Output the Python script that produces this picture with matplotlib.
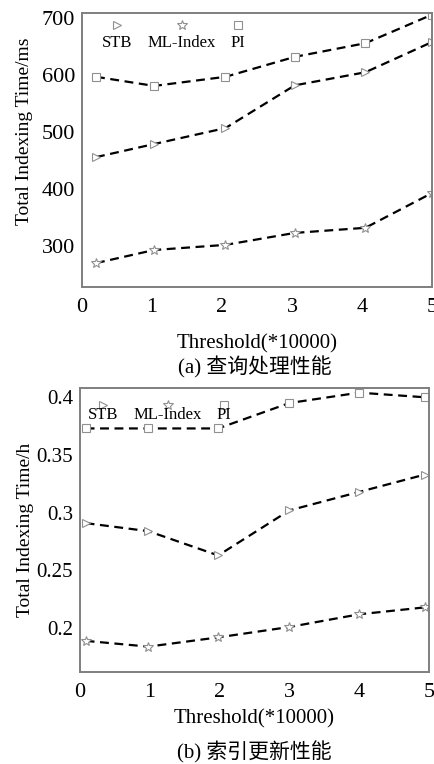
import matplotlib
matplotlib.use("Agg")
import matplotlib.pyplot as plt
from matplotlib.offsetbox import VPacker

plt.rcParams['font.family'] = ['Liberation Serif', 'Noto Sans CJK SC']
plt.rcParams['font.size'] = 15

series = ["STB", "ML-Index", "PI"]

# (a) query processing
x_query = [0.2, 1.03, 2.05, 3.04, 4.05, 5.0]
stb_query = [456, 479, 507, 582, 605, 658]
ml_query = [270, 293, 302, 323, 332, 393]
pi_query = [597, 581, 597, 632, 656, 706]

# (b) index update
x_update = [0.08, 0.98, 1.98, 3.0, 4.0, 4.94]
stb_update = [0.291, 0.284, 0.263, 0.302, 0.318, 0.333]
ml_update = [0.189, 0.184, 0.192, 0.201, 0.212, 0.218]
pi_update = [0.373, 0.373, 0.373, 0.395, 0.404, 0.400]

markers = ['>', '*', 's']
msizes = [5.5, 7.5, 5.5]


def vertical_legend(ax, anchor, sep):
    leg = ax.legend(loc='upper left', bbox_to_anchor=anchor, ncol=3,
                    frameon=False, handlelength=0.6, columnspacing=0.9,
                    fontsize=12, borderaxespad=0, borderpad=0)
    for h in leg.legend_handles:
        h.set_linestyle('none')
    hbox = leg._legend_handle_box
    for col in hbox.get_children():
        items = []
        for item in col.get_children():
            h, t = item.get_children()
            items.append(VPacker(pad=0, sep=sep, children=[h, t], align="center"))
        col._children = items
    return leg


def draw(ax, x, ys, ylim, yticks, yticklabels, ylabel, ylab_pos, xlabpad,
         leg_anchor, leg_sep, ytick_size):
    for y, name, m, ms in zip(ys, series, markers, msizes):
        ax.plot(x, y, color='black', linestyle=(0, (4, 2.5)), linewidth=1.6,
                marker=m, markersize=ms, markerfacecolor='white',
                markeredgecolor='#909090', markeredgewidth=0.8, label=name)
    ax.set_xlim(0, 5)
    ax.set_ylim(*ylim)
    ax.set_xticks(range(6))
    ax.set_yticks(yticks)
    ax.set_yticklabels(yticklabels)
    ax.tick_params(axis='x', length=0, pad=8, labelsize=16)
    ax.tick_params(axis='y', length=0, pad=5, labelsize=ytick_size)
    for s in ax.spines.values():
        s.set_color('#7f7f7f')
        s.set_linewidth(1.4)
    ax.set_ylabel(ylabel, fontsize=14)
    ax.yaxis.set_label_coords(*ylab_pos)
    ax.set_xlabel('Threshold(*10000)', labelpad=xlabpad)
    vertical_legend(ax, leg_anchor, leg_sep)


fig = plt.figure(figsize=(4.35, 7.64), dpi=100)
ax1 = fig.add_axes([0.1885, 0.6243, 0.8045, 0.3587])
ax2 = fig.add_axes([0.184, 0.1204, 0.802, 0.3717])

draw(ax1, x_query, [stb_query, ml_query, pi_query], (228, 709),
     [300, 400, 500, 600, 700], ['300', '400', '500', '600', '700'],
     'Total Indexing Time/ms', (-0.14, 0.569), 12, (0.057, 0.978), 3, 16)
draw(ax2, x_update, [stb_update, ml_update, pi_update], (0.162, 0.408),
     [0.2, 0.25, 0.3, 0.35, 0.4], ['0.2', '0.25', '0.3', '0.35', '0.4'],
     'Total Indexing Time/h', (-0.132, 0.5), 5, (0.023, 0.961), -3, 15)

fig.text(0.585, 1 - 367 / 764, '(a) 查询处理性能', ha='center', va='center', fontsize=15)
fig.text(0.585, 1 - 752 / 764, '(b) 索引更新性能', ha='center', va='center', fontsize=15)

fig.savefig('out.png', dpi=100)
